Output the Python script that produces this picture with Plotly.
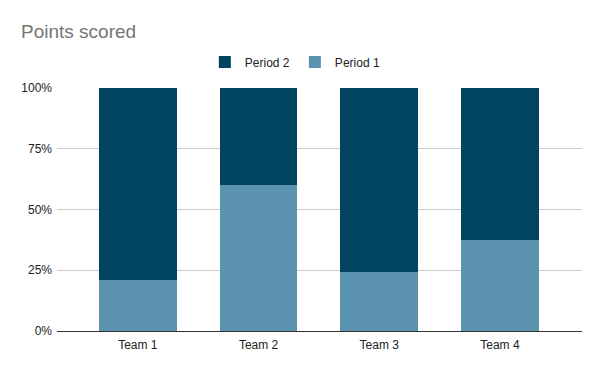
import plotly.graph_objects as go

teams = ["Team 1", "Team 2", "Team 3", "Team 4"]
period1 = [21, 60, 24.2, 37.4]
period2 = [79, 40, 75.8, 62.6]
tick_vals = [0, 25, 50, 75, 100]
tick_text = ["0%", "25%", "50%", "75%", "100%"]

FONT = "Arial, 'Liberation Sans', sans-serif"

fig = go.Figure()
fig.add_trace(go.Bar(name="Period 1", x=teams, y=period1, marker_color="#5b93af", marker_line_width=0))
fig.add_trace(go.Bar(name="Period 2", x=teams, y=period2, marker_color="#00445f", marker_line_width=0))

fig.update_layout(
    barmode="stack",
    barnorm="percent",
    bargap=0.355,
    width=600, height=371,
    margin=dict(l=57, r=18, t=88, b=40),
    paper_bgcolor="white", plot_bgcolor="white",
    font=dict(family=FONT, size=12, color="#222"),
    title=dict(text="Points scored", x=0.035, xanchor="left", y=1 - 31 / 371, yanchor="middle",
               font=dict(size=19, color="#757575", family=FONT)),
    legend=dict(orientation="h", x=0.454, xanchor="center", y=1.107, yanchor="middle",
                traceorder="reversed", font=dict(size=12, color="#222")),
    showlegend=True,
)
fig.update_xaxes(range=[-0.67, 3.68], showgrid=False, showline=True, linecolor="#333",
                 linewidth=1, ticks="", ticklabelstandoff=3, tickfont=dict(size=12, color="#222"))
fig.update_yaxes(range=[0, 100], tickvals=tick_vals, ticktext=tick_text, showgrid=True,
                 gridcolor="#cccccc", gridwidth=1, zeroline=False, ticks="",
                 ticklabelstandoff=4, tickfont=dict(size=12, color="#222"))

fig.write_html("out.html", config={"displayModeBar": False},
               post_script="document.body.style.margin='0';")
